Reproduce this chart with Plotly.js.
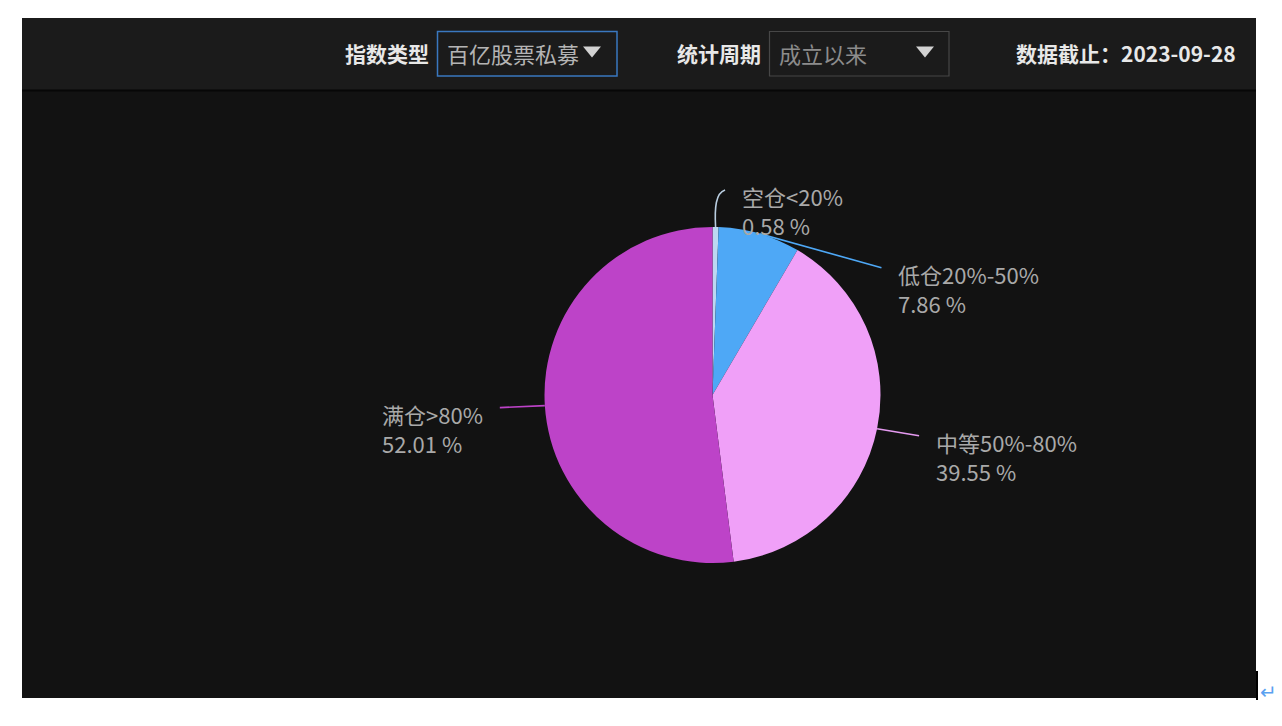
<!DOCTYPE html>
<html>
<head>
<meta charset="utf-8">
<script src="https://cdn.plot.ly/plotly-3.0.1.min.js"></script>
<style>
html,body{margin:0;padding:0;background:#ffffff;}
#chart{width:1282px;height:726px;}
</style>
</head>
<body>
<div id="chart"></div>
<script>
// ---- data ----
const categories = ['空仓<20%', '低仓20%-50%', '中等50%-80%', '满仓>80%'];
const values = [0.58, 7.86, 39.55, 52.01];
const sliceColors = ['#bcd8f2', '#4ea8f6', '#f0a0f8', '#bd43c8'];
const lineColors = ['#b9cde0', '#4ea8f6', '#e59af0', '#bd43c8'];
const indexTypeLabel = '指数类型';
const indexTypeValue = '百亿股票私募';
const periodLabel = '统计周期';
const periodValue = '成立以来';
const dateText = '数据截止：2023-09-28';

// ---- layout helpers (pixels -> paper) ----
const W = 1282, H = 726;
const px = x => x / W;
const py = y => 1 - y / H;
const CX = 712.5, CY = 395, R = 168;
const FONT = '"Noto Sans CJK SC", "Noto Sans", sans-serif';
const LABEL_SIZE = 22;

// label end offsets relative to slice edge anchor (label layout / overlap avoidance)
const labelShift = [[9.5, -37], [122, 34], [42, 7], [-45, 2]];

const measureCtx = document.createElement('canvas').getContext('2d');
measureCtx.font = LABEL_SIZE + 'px ' + FONT;
const textWidth = t => measureCtx.measureText(t).width;

const shapes = [];
const annotations = [];

// panels
shapes.push({type:'rect', xref:'paper', yref:'paper', x0:px(22), x1:px(1256), y0:py(698), y1:py(18), fillcolor:'#121212', line:{width:0}, layer:'below'});
shapes.push({type:'rect', xref:'paper', yref:'paper', x0:px(22), x1:px(1256), y0:py(90), y1:py(18), fillcolor:'#1b1b1b', line:{width:0}, layer:'below'});
shapes.push({type:'line', xref:'paper', yref:'paper', x0:px(22), x1:px(1256), y0:py(90.5), y1:py(90.5), line:{color:'#070707', width:2}, layer:'below'});
// dropdown boxes
shapes.push({type:'rect', xref:'paper', yref:'paper', x0:px(437.5), x1:px(617), y0:py(76), y1:py(31.5), fillcolor:'rgba(0,0,0,0)', line:{color:'#3a78c0', width:1.5}});
shapes.push({type:'rect', xref:'paper', yref:'paper', x0:px(769.5), x1:px(949), y0:py(76), y1:py(31.5), fillcolor:'rgba(0,0,0,0)', line:{color:'#474747', width:1.2}});
// dropdown arrows
function tri(x, y) {
  return {type:'path', xref:'paper', yref:'paper',
    path:`M ${px(x-9)} ${py(y-5.5)} L ${px(x+9)} ${py(y-5.5)} L ${px(x)} ${py(y+5.5)} Z`,
    fillcolor:'#d2d2d2', line:{width:0}};
}
shapes.push(tri(592, 52));
shapes.push(tri(925, 52));
// right edge marks
shapes.push({type:'line', xref:'paper', yref:'paper', x0:px(1257), x1:px(1257), y0:py(700), y1:py(671), line:{color:'#000000', width:2}});

function hdr(text, x, anchor, color, bold, size) {
  annotations.push({xref:'paper', yref:'paper', x:px(x), y:py(53), xanchor:anchor, yanchor:'middle',
    text: bold ? '<b>' + text + '</b>' : text, showarrow:false,
    font:{family:FONT, size:size, color:color}});
}
hdr(indexTypeLabel, 431, 'right', '#e8e8e8', true, 21);
hdr(indexTypeValue, 445, 'left', '#b4b4b4', false, 22);
hdr(periodLabel, 763, 'right', '#e8e8e8', true, 21);
hdr(periodValue, 777, 'left', '#8c8c8c', false, 22);
hdr(dateText, 1238, 'right', '#e8e8e8', true, 21);
annotations.push({xref:'paper', yref:'paper', x:px(1258), y:py(690), xanchor:'left', yanchor:'middle',
  text:'↵', showarrow:false, font:{family:FONT, size:20, color:'#5aa2f0'}});

// ---- labels computed from data ----
const total = values.reduce((a, b) => a + b, 0);
let cum = 0;
values.forEach((v, i) => {
  const mid = (cum + v / 2) / total * 2 * Math.PI;
  cum += v;
  const ex = CX + R * Math.sin(mid), ey = CY - R * Math.cos(mid);
  const tx = ex + labelShift[i][0], ty = ey + labelShift[i][1];
  let path;
  if (i === 0) {
    path = `M ${px(ex)} ${py(ey)} C ${px(ex - 1)} ${py(ty + 18)}, ${px(ex)} ${py(ty + 3)}, ${px(tx)} ${py(ty)}`;
  } else {
    path = `M ${px(ex)} ${py(ey)} L ${px(tx)} ${py(ty)}`;
  }
  shapes.push({type:'path', xref:'paper', yref:'paper', path:path, line:{color:lineColors[i], width:1.6}});
  const right = tx >= CX;
  const pct = ((v / total) * 100).toFixed(2) + ' %';
  const blockW = Math.max(textWidth(categories[i]), textWidth(pct));
  const lx = right ? tx + 16 : tx - 18 - blockW;
  [[categories[i], 6], [pct, 35]].forEach(([t, dy]) => {
    annotations.push({xref:'paper', yref:'paper', x:px(lx), y:py(ty + dy), xanchor:'left', yanchor:'middle',
      text:t.replace('<', '&lt;'), showarrow:false, borderpad:0,
      font:{family:FONT, size:LABEL_SIZE, color:'#a9a9a9'}});
  });
});

const trace = {
  type:'pie',
  labels:categories,
  values:values,
  sort:false,
  direction:'clockwise',
  rotation:0,
  textinfo:'none',
  hoverinfo:'label+percent',
  marker:{colors:sliceColors, line:{width:0}},
  domain:{x:[px(CX - R), px(CX + R)], y:[py(CY + R), py(CY - R)]},
  showlegend:false
};

const layout = {
  width:W, height:H,
  margin:{l:0, r:0, t:0, b:0},
  paper_bgcolor:'#ffffff',
  plot_bgcolor:'#ffffff',
  showlegend:false,
  shapes:shapes,
  annotations:annotations
};

Plotly.newPlot('chart', [trace], layout, {displayModeBar:false, staticPlot:true});
</script>
</body>
</html>
